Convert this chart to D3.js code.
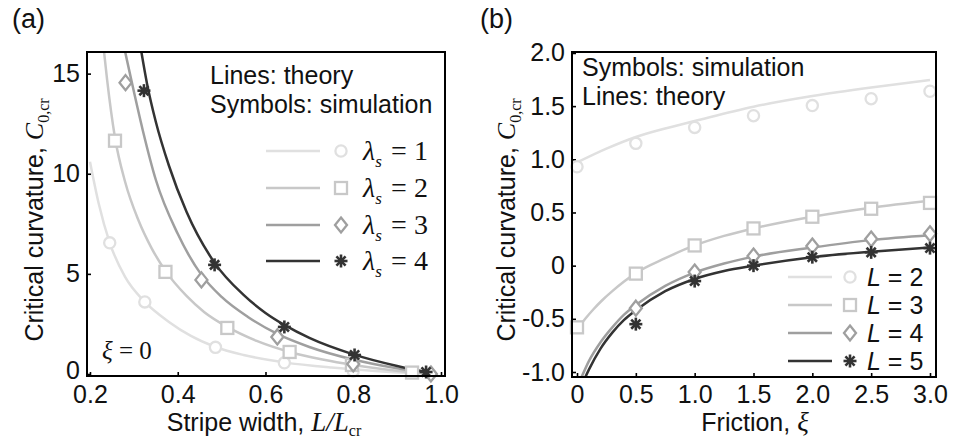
<!DOCTYPE html>
<html><head><meta charset="utf-8">
<script src="https://cdn.jsdelivr.net/npm/d3@7"></script>
<style>body{margin:0;background:#fff}svg{display:block}</style>
</head><body>
<svg id="c" width="953" height="443"></svg>
<script>
// ---------- DATA: panel (a) ----------
const aXTicks = [0.2, 0.4, 0.6, 0.8, 1.0];
const aXTickLabels = ["0.2", "0.4", "0.6", "0.8", "1.0"];
const aYTicks = [0, 5, 10, 15];
const aYTickLabels = ["0", "5", "10", "15"];
const aSeriesNames = ["1", "2", "3", "4"];

// theory lines (lambda_s = 1..4)
const a1LineX = [0.2, 0.22, 0.245, 0.28, 0.325, 0.38, 0.43, 0.486, 0.55, 0.643, 0.75, 0.85, 0.93, 0.99];
const a1LineY = [10.6, 8.5, 6.55, 4.85, 3.6, 2.6, 1.9, 1.35, 0.95, 0.58, 0.32, 0.15, 0.05, 0.0];
const a2LineX = [0.232, 0.239, 0.257, 0.28, 0.31, 0.34, 0.372, 0.42, 0.46, 0.513, 0.58, 0.655, 0.73, 0.8, 0.87, 0.935, 0.99];
const a2LineY = [16.1, 14.7, 11.8, 9.6, 7.7, 6.3, 5.15, 3.9, 3.1, 2.35, 1.65, 1.1, 0.72, 0.45, 0.24, 0.09, 0.0];
const a3LineX = [0.28, 0.295, 0.32, 0.35, 0.4, 0.454, 0.5, 0.56, 0.627, 0.7, 0.8, 0.9, 0.99];
const a3LineY = [16.1, 14.6, 12.2, 9.7, 7.0, 4.95, 3.85, 2.85, 2.0, 1.35, 0.72, 0.28, 0.0];
const a4LineX = [0.317, 0.33, 0.35, 0.38, 0.42, 0.484, 0.55, 0.6, 0.643, 0.7, 0.8, 0.9, 0.99];
const a4LineY = [16.1, 14.5, 12.6, 10.4, 8.1, 5.55, 3.95, 3.05, 2.45, 1.8, 0.98, 0.4, 0.0];

// simulation symbols
const a1PtX = [0.245, 0.325, 0.486, 0.643, 0.8];
const a1PtY = [6.55, 3.6, 1.33, 0.56, 0.15];
const a2PtX = [0.257, 0.372, 0.513, 0.655, 0.797, 0.934];
const a2PtY = [11.65, 5.1, 2.3, 1.1, 0.45, 0.07];
const a3PtX = [0.281, 0.454, 0.627, 0.8, 0.977];
const a3PtY = [14.55, 4.7, 1.85, 0.5, 0.0];
const a4PtX = [0.323, 0.484, 0.643, 0.803, 0.966];
const a4PtY = [14.15, 5.45, 2.35, 0.95, 0.1];

// ---------- DATA: panel (b) ----------
const bXTicks = [0, 0.5, 1.0, 1.5, 2.0, 2.5, 3.0];
const bXTickLabels = ["0", "0.5", "1.0", "1.5", "2.0", "2.5", "3.0"];
const bYTicks = [-1.0, -0.5, 0, 0.5, 1.0, 1.5, 2.0];
const bYTickLabels = ["-1.0", "-0.5", "0", "0.5", "1.0", "1.5", "2.0"];
const bSeriesNames = ["2", "3", "4", "5"];

const b1LineX = [0, 0.25, 0.5, 0.75, 1.0, 1.5, 2.0, 2.5, 3.0];
const b1LineY = [0.97, 1.1, 1.21, 1.29, 1.36, 1.495, 1.595, 1.675, 1.745];
const b2LineX = [0, 0.07, 0.14, 0.21, 0.3, 0.4, 0.5, 0.75, 1.0, 1.25, 1.5, 2.0, 2.5, 3.0];
const b2LineY = [-0.6, -0.5, -0.41, -0.33, -0.24, -0.15, -0.07, 0.07, 0.19, 0.28, 0.35, 0.46, 0.545, 0.61];
const b3LineX = [0.0, 0.05, 0.1, 0.2, 0.3, 0.4, 0.5, 0.75, 1.0, 1.25, 1.5, 2.0, 2.5, 3.0];
const b3LineY = [-1.15, -1.02, -0.9, -0.72, -0.58, -0.46, -0.37, -0.19, -0.065, 0.02, 0.085, 0.17, 0.24, 0.285];
const b4LineX = [0.05, 0.1, 0.2, 0.3, 0.4, 0.5, 0.75, 1.0, 1.25, 1.5, 2.0, 2.5, 3.0];
const b4LineY = [-1.1, -0.98, -0.78, -0.63, -0.51, -0.42, -0.24, -0.125, -0.05, 0.0, 0.08, 0.13, 0.17];

const b1PtX = [0, 0.5, 1.0, 1.5, 2.0, 2.5, 3.0];
const b1PtY = [0.93, 1.15, 1.30, 1.41, 1.505, 1.57, 1.64];
const b2PtX = [0, 0.5, 1.0, 1.5, 2.0, 2.5, 3.0];
const b2PtY = [-0.58, -0.075, 0.19, 0.35, 0.46, 0.535, 0.59];
const b3PtX = [0.5, 1.0, 1.5, 2.0, 2.5, 3.0];
const b3PtY = [-0.4, -0.06, 0.09, 0.185, 0.25, 0.3];
const b4PtX = [0.5, 1.0, 1.5, 2.0, 2.5, 3.0];
const b4PtY = [-0.55, -0.145, 0.0, 0.08, 0.125, 0.165];

// ---------- STYLE ----------
const seriesColors = ["#e0e0e0", "#c8c8c8", "#9f9f9f", "#333333"];
const symbolTypes = ["circle", "square", "diamond", "star"];
const SANS = "Liberation Sans, Arial, sans-serif", SERIF = "Liberation Serif, Times New Roman, serif";
const FS = 25;

const svg = d3.select("#c");
svg.append("rect").attr("width", 953).attr("height", 443).attr("fill", "#fff");

function zip(xs, ys) { return xs.map((x, i) => [x, ys[i]]); }

function marker(g, type, cx, cy, color) {
  if (type === "circle") {
    g.append("circle").attr("cx", cx).attr("cy", cy).attr("r", 5.6)
      .attr("fill", "#fff").attr("stroke", color).attr("stroke-width", 2.3);
  } else if (type === "square") {
    g.append("rect").attr("x", cx - 6).attr("y", cy - 6).attr("width", 12).attr("height", 12)
      .attr("fill", "#fff").attr("stroke", color).attr("stroke-width", 2.3);
  } else if (type === "diamond") {
    g.append("path").attr("d", `M${cx},${cy - 7.5}L${cx + 6},${cy}L${cx},${cy + 7.5}L${cx - 6},${cy}Z`)
      .attr("fill", "#fff").attr("stroke", color).attr("stroke-width", 2.3);
  } else {
    [0, 45, 90, 135].forEach(a => {
      const r = a * Math.PI / 180, dx = 6.5 * Math.cos(r), dy = 6.5 * Math.sin(r);
      g.append("line").attr("x1", cx - dx).attr("y1", cy - dy).attr("x2", cx + dx).attr("y2", cy + dy)
        .attr("stroke", color).attr("stroke-width", 2.6);
    });
    g.append("circle").attr("cx", cx).attr("cy", cy).attr("r", 2.6).attr("fill", color);
  }
}

function panel(cfg) {
  const { x, y, id } = cfg;
  const [x0, x1] = x.range(), [y0, y1] = y.range();
  const g = svg.append("g");
  svg.append("clipPath").attr("id", id).append("rect")
    .attr("x", x0).attr("y", y1).attr("width", x1 - x0).attr("height", y0 - y1);

  const ax = g.append("g").attr("transform", `translate(0,${y0})`)
    .call(d3.axisBottom(x).tickValues(cfg.xTicks).tickFormat((d, i) => cfg.xLabels[i])
      .tickSizeInner(-4).tickSizeOuter(0).tickPadding(cfg.xPad));
  const ay = g.append("g").attr("transform", `translate(${x0},0)`)
    .call(d3.axisLeft(y).tickValues(cfg.yTicks).tickFormat((d, i) => cfg.yLabels[i])
      .tickSizeInner(-4).tickSizeOuter(0).tickPadding(7));
  [ax, ay].forEach(a => {
    a.select(".domain").remove();
    a.selectAll(".tick line").attr("stroke", "#000").attr("stroke-width", 1.6);
    a.selectAll(".tick text").attr("font-family", SANS).attr("font-size", FS).attr("fill", "#111");
  });
  if (cfg.liftZero) {
    ay.selectAll(".tick text").filter(d => d === 0).attr("dy", "0.18em");
  }

  const line = d3.line().x(d => x(d[0])).y(d => y(d[1])).curve(d3.curveMonotoneX);
  const lg = g.append("g").attr("clip-path", `url(#${id})`);
  cfg.lines.forEach((pts, i) => {
    lg.append("path").attr("d", line(pts)).attr("fill", "none")
      .attr("stroke", seriesColors[i]).attr("stroke-width", 2.5);
  });
  const mg = g.append("g");
  cfg.points.forEach((pts, i) => {
    pts.forEach(p => marker(mg, symbolTypes[i], x(p[0]), y(p[1]), seriesColors[i]));
  });

  g.append("rect").attr("x", x0).attr("y", y1).attr("width", x1 - x0).attr("height", y0 - y1)
    .attr("fill", "none").attr("stroke", "#000").attr("stroke-width", 2);
  return g;
}

// ---------- PANEL (a) ----------
const xA = d3.scaleLinear().domain([0.1932, 1.0091]).range([87, 445]);
const yA = d3.scaleLinear().domain([-0.1, 16.08]).range([376, 52]);
panel({
  id: "clipA", x: xA, y: yA, xTicks: aXTicks, xLabels: aXTickLabels, yTicks: aYTicks, yLabels: aYTickLabels, xPad: 9, liftZero: true,
  lines: [zip(a1LineX, a1LineY), zip(a2LineX, a2LineY), zip(a3LineX, a3LineY), zip(a4LineX, a4LineY)],
  points: [zip(a1PtX, a1PtY), zip(a2PtX, a2PtY), zip(a3PtX, a3PtY), zip(a4PtX, a4PtY)]
});

// ---------- PANEL (b) ----------
const xB = d3.scaleLinear().domain([-0.0425, 3.051]).range([572, 936]);
const yB = d3.scaleLinear().domain([-1.047, 2.009]).range([377, 52]);
panel({
  id: "clipB", x: xB, y: yB, xTicks: bXTicks, xLabels: bXTickLabels, yTicks: bYTicks, yLabels: bYTickLabels, xPad: 8,
  lines: [zip(b1LineX, b1LineY), zip(b2LineX, b2LineY), zip(b3LineX, b3LineY), zip(b4LineX, b4LineY)],
  points: [zip(b1PtX, b1PtY), zip(b2PtX, b2PtY), zip(b3PtX, b3PtY), zip(b4PtX, b4PtY)]
});

// ---------- TEXT ----------
function txt(x, y, s, size) {
  return svg.append("text").attr("x", x).attr("y", y).attr("font-family", SANS)
    .attr("font-size", size).attr("fill", "#111").text(s);
}
txt(12, 28, "(a)", 27);
txt(480, 28, "(b)", 27);

txt(210, 84, "Lines: theory", FS);
txt(210, 113, "Symbols: simulation", FS);
txt(582, 76, "Symbols: simulation", FS);
txt(582, 105, "Lines: theory", FS);

function yTitle(xb, yc) {
  const t = svg.append("text").attr("transform", `translate(${xb},${yc}) rotate(-90)`)
    .attr("text-anchor", "middle").attr("font-family", SANS).attr("font-size", FS).attr("fill", "#111");
  t.append("tspan").text("Critical curvature,  ");
  t.append("tspan").attr("font-family", SERIF).attr("font-style", "italic").attr("font-size", 26).text("C");
  t.append("tspan").attr("font-family", SERIF).attr("font-size", 16).attr("dy", 6).text("0,cr");
}
yTitle(43, 220);
yTitle(515, 220);

{
  const t = svg.append("text").attr("x", 264).attr("y", 431).attr("text-anchor", "middle")
    .attr("font-family", SANS).attr("font-size", FS).attr("fill", "#111");
  t.append("tspan").text("Stripe width, ");
  t.append("tspan").attr("font-family", SERIF).attr("font-style", "italic").attr("font-size", 27).text("L/L");
  t.append("tspan").attr("font-family", SERIF).attr("font-size", 16).attr("dy", 5).text("cr");
}
{
  const t = svg.append("text").attr("x", 755).attr("y", 431).attr("text-anchor", "middle")
    .attr("font-family", SANS).attr("font-size", FS).attr("fill", "#111");
  t.append("tspan").text("Friction, ");
  t.append("tspan").attr("font-family", SERIF).attr("font-style", "italic").attr("font-size", 27).text("ξ");
}

{
  const t = svg.append("text").attr("x", 102).attr("y", 359)
    .attr("font-family", SERIF).attr("font-size", 25).attr("fill", "#111");
  t.append("tspan").attr("font-style", "italic").text("ξ");
  t.append("tspan").text(" = 0");
}

// legend (a)
const legAY = [151, 188, 225, 261];
aSeriesNames.forEach((n, i) => {
  const yy = legAY[i];
  svg.append("line").attr("x1", 266).attr("x2", 320).attr("y1", yy).attr("y2", yy)
    .attr("stroke", seriesColors[i]).attr("stroke-width", 2.5);
  marker(svg, symbolTypes[i], 341, yy, seriesColors[i]);
  const t = svg.append("text").attr("x", 363).attr("y", yy + 9)
    .attr("font-family", SERIF).attr("font-size", 28).attr("fill", "#111");
  t.append("tspan").attr("font-style", "italic").text("λ");
  t.append("tspan").attr("font-style", "italic").attr("font-size", 17).attr("dy", 7).text("s");
  t.append("tspan").attr("x", 391).attr("dy", -7).text("=");
  t.append("tspan").attr("x", 414).text(n);
});

// legend (b)
const legBY = [277, 305, 333, 361];
bSeriesNames.forEach((n, i) => {
  const yy = legBY[i];
  svg.append("line").attr("x1", 788).attr("x2", 832).attr("y1", yy).attr("y2", yy)
    .attr("stroke", seriesColors[i]).attr("stroke-width", 2.5);
  marker(svg, symbolTypes[i], 850, yy, seriesColors[i]);
  const t = svg.append("text").attr("x", 867).attr("y", yy + 9)
    .attr("font-family", SANS).attr("font-size", FS).attr("fill", "#111");
  t.append("tspan").attr("font-style", "italic").text("L");
  t.append("tspan").text(" = " + n);
});
</script>
</body></html>
